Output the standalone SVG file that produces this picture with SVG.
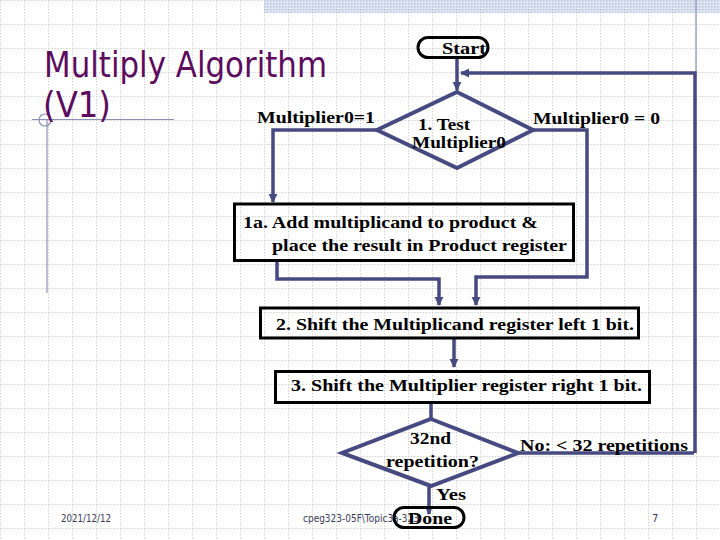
<svg xmlns="http://www.w3.org/2000/svg" width="720" height="540" viewBox="0 0 720 540">
<defs>
<pattern id="grid" width="24" height="24" patternUnits="userSpaceOnUse">
<path d="M0 0.5H24M0.5 0V24" fill="none" stroke="#d2d2d2" stroke-width="1" stroke-dasharray="1.5,1.5"/>
</pattern>
<pattern id="hatch" width="3" height="3" patternUnits="userSpaceOnUse">
<rect width="3" height="3" fill="#dfe5f2"/>
<rect width="1.5" height="1.5" fill="#b9c4dd"/>
</pattern>
<marker id="arr" viewBox="0 0 10 10" refX="9" refY="5" markerWidth="2.6" markerHeight="2.6" orient="auto">
<path d="M0 0L10 5L0 10z" fill="#474a80"/>
</marker>
</defs>
<style>
.conn{fill:none;stroke:#474a80;stroke-width:3.5;stroke-linejoin:miter}
.box{fill:none;stroke:#000;stroke-width:3}
.dia{fill:none;stroke:#474a80;stroke-width:4;stroke-linejoin:miter}
.lbl{font-family:"Liberation Serif",serif;font-weight:bold;font-size:17px;fill:#000}
.foot{font-family:"DejaVu Sans","Liberation Sans",sans-serif;font-size:10px;fill:#3a3a5a}
.title{font-family:"DejaVu Sans","Liberation Sans",sans-serif;font-size:35px;fill:#5c0c5e}
.deco{fill:none;stroke:#8890b4;stroke-width:1.2}
</style>
<rect width="720" height="540" fill="#fff"/>
<rect width="720" height="540" fill="url(#grid)"/>
<rect x="264" y="0" width="456" height="13" fill="url(#hatch)"/>
<g id="decoration">
<line class="deco" x1="696" y1="0" x2="696" y2="73"/>
<line class="deco" x1="32" y1="119.5" x2="174" y2="119.5"/>
<line class="deco" x1="47" y1="120" x2="47" y2="293"/>
<circle class="deco" cx="45" cy="120" r="6"/>
</g>
<g id="title">
<text class="title" x="44" y="77" textLength="283" lengthAdjust="spacingAndGlyphs">Multiply Algorithm</text>
<text class="title" x="43" y="117" textLength="68" lengthAdjust="spacingAndGlyphs">(V1)</text>
</g>
<g id="connectors">
<path class="conn" d="M457 58V90" marker-end="url(#arr)"/>
<path class="conn" d="M694 453H518M695 453V73H461" marker-end="url(#arr)"/>
<path class="conn" d="M377 130H273V202" marker-end="url(#arr)"/>
<path class="conn" d="M533 130H587V277H476V305" marker-end="url(#arr)"/>
<path class="conn" d="M277 261V279H439V305" marker-end="url(#arr)"/>
<path class="conn" d="M454 338V367" marker-end="url(#arr)"/>
<path class="conn" d="M431 403V419"/>
<path class="conn" d="M429 486V514" marker-end="url(#arr)"/>
</g>
<g id="start">
<rect class="box" x="418" y="37.5" width="70" height="20" rx="10" ry="10"/>
<text class="lbl" x="442" y="54" textLength="44" lengthAdjust="spacingAndGlyphs">Start</text>
</g>
<g id="test1">
<path class="dia" d="M457 92L533 130L457 168L377 130Z"/>
<text class="lbl" x="418" y="130" textLength="52" lengthAdjust="spacingAndGlyphs">1. Test</text>
<text class="lbl" x="412" y="148" textLength="94" lengthAdjust="spacingAndGlyphs">Multiplier0</text>
</g>
<g id="labels-test1">
<text class="lbl" x="257" y="123" textLength="118" lengthAdjust="spacingAndGlyphs">Multiplier0=1</text>
<text class="lbl" x="533" y="124" textLength="127" lengthAdjust="spacingAndGlyphs">Multiplier0 = 0</text>
</g>
<g id="step1a">
<rect class="box" x="234.5" y="204" width="339" height="56.5"/>
<text class="lbl" x="243" y="228" textLength="295" lengthAdjust="spacingAndGlyphs">1a. Add multiplicand to product &amp;</text>
<text class="lbl" x="272" y="251" textLength="295" lengthAdjust="spacingAndGlyphs">place the result in Product register</text>
</g>
<g id="step2">
<rect class="box" x="260.5" y="308" width="378" height="30"/>
<text class="lbl" x="276" y="330" textLength="358" lengthAdjust="spacingAndGlyphs">2. Shift the Multiplicand register left 1 bit.</text>
</g>
<g id="step3">
<rect class="box" x="275.5" y="371.5" width="374" height="31"/>
<text class="lbl" x="291" y="391" textLength="351" lengthAdjust="spacingAndGlyphs">3. Shift the Multiplier register right 1 bit.</text>
</g>
<g id="test32">
<path class="dia" d="M431 419L518 453L431 486L342 453Z"/>
<text class="lbl" x="410" y="444" textLength="41" lengthAdjust="spacingAndGlyphs">32nd</text>
<text class="lbl" x="386" y="467" textLength="93" lengthAdjust="spacingAndGlyphs">repetition?</text>
</g>
<g id="labels-test32">
<text class="lbl" x="520" y="451" textLength="168" lengthAdjust="spacingAndGlyphs">No: &lt; 32 repetitions</text>
<text class="lbl" x="436" y="500" textLength="30" lengthAdjust="spacingAndGlyphs">Yes</text>
</g>
<g id="footer">
<text class="foot" x="61" y="522" textLength="50" lengthAdjust="spacingAndGlyphs">2021/12/12</text>
<text class="foot" x="303" y="522" textLength="116" lengthAdjust="spacingAndGlyphs">cpeg323-05F\Topic3a-323</text>
<text class="foot" x="652" y="522">7</text>
</g>
<g id="done">
<rect class="box" x="394" y="507.5" width="70" height="20" rx="10" ry="10"/>
<text class="lbl" x="408" y="524" textLength="44" lengthAdjust="spacingAndGlyphs">Done</text>
</g>
</svg>
